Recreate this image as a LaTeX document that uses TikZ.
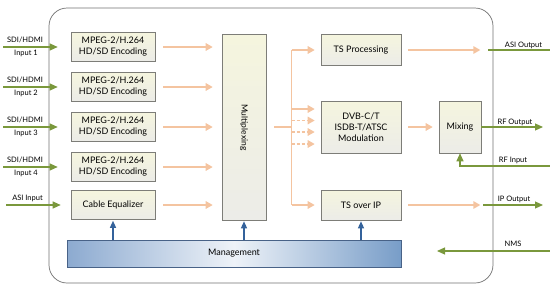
\documentclass[tikz,border=0pt]{standalone}
\usepackage{fontspec}
\setmainfont{Lato}
\usetikzlibrary{arrows.meta,shadows}
\definecolor{frameline}{RGB}{112,112,112}
\definecolor{boxline}{RGB}{125,125,120}
\definecolor{boxtop}{RGB}{245,245,222}
\definecolor{boxbot}{RGB}{236,236,232}
\definecolor{sigorange}{RGB}{244,196,160}
\definecolor{siggreen}{RGB}{122,152,60}
\definecolor{ctlblue}{RGB}{52,98,155}
\definecolor{mgmtleft}{RGB}{140,170,208}
\definecolor{mgmtright}{RGB}{120,157,200}
\definecolor{mgmtline}{RGB}{72,98,135}
\begin{document}
\begin{tikzpicture}[x=1pt,y=-1pt,
  blk/.style={draw=boxline,line width=0.6pt,top color=boxtop,bottom color=boxbot,
    inner sep=0pt,align=center,font=\fontsize{9}{11}\selectfont,
    drop shadow={shadow xshift=0.8pt,shadow yshift=-0.8pt,opacity=0.25}},
  oline/.style={draw=sigorange,line width=1.5pt},
  oarr/.style={oline,-{Triangle[length=7pt,width=7.5pt]}},
  darr/.style={oarr,densely dashed},
  gline/.style={draw=siggreen,line width=1.2pt},
  garr/.style={gline,-{Triangle[length=8pt,width=7pt]}},
  barr/.style={draw=ctlblue,line width=1.2pt,-{Triangle[length=7pt,width=6pt]},shorten >=1pt},
  lbl/.style={font=\fontsize{7.5}{8}\selectfont,inner sep=0pt,anchor=base}]
\useasboundingbox (0,0) rectangle (550,287);
\node[draw=frameline,line width=0.7pt,rounded corners=18pt,minimum width=444pt,minimum height=275pt] (frame) at (271,145.5) {};
\node[blk,minimum width=84pt,minimum height=29pt] (enc1) at (113,47) {MPEG-2/H.264\\HD/SD Encoding};
\node[blk,minimum width=84pt,minimum height=29pt] (enc2) at (113,87) {MPEG-2/H.264\\HD/SD Encoding};
\node[blk,minimum width=84pt,minimum height=29pt] (enc3) at (113,127) {MPEG-2/H.264\\HD/SD Encoding};
\node[blk,minimum width=84pt,minimum height=29pt] (enc4) at (113,167) {MPEG-2/H.264\\HD/SD Encoding};
\node[blk,minimum width=84pt,minimum height=29pt] (eq) at (113,205) {Cable Equalizer};
\node[blk,minimum width=44pt,minimum height=185.5pt] (mux) at (244,127.25) {};
\node[font=\fontsize{8.5}{10}\selectfont,rotate=-90] (muxtxt) at (mux.center) {Multiplexing};
\node[blk,minimum width=80pt,minimum height=30.5pt] (tsp) at (361,50) {TS Processing};
\node[blk,minimum width=80pt,minimum height=52pt] (dvb) at (361,127) {DVB-C/T\\ISDB-T/ATSC\\Modulation};
\node[blk,minimum width=80pt,minimum height=30pt] (tsip) at (361,205) {TS over IP};
\node[blk,minimum width=42pt,minimum height=52pt] (mix) at (460,127) {Mixing};
\node[draw=mgmtline,line width=0.6pt,left color=mgmtleft,right color=mgmtright,middle color=white!85!mgmtleft,
  minimum width=334pt,minimum height=27pt,inner sep=0pt,font=\fontsize{9}{10}\selectfont] (mgmt) at (234,253.5) {Management};
% inputs
\coordinate (in1) at (3,47);
\coordinate (in2) at (3,87);
\coordinate (in3) at (3,127);
\coordinate (in4) at (3,167);
\coordinate (asiin) at (6,205);
\draw[garr] (in1) -- ([xshift=-13pt]enc1.west);
\draw[garr] (in2) -- ([xshift=-13pt]enc2.west);
\draw[garr] (in3) -- ([xshift=-13pt]enc3.west);
\draw[garr] (in4) -- ([xshift=-13pt]enc4.west);
\draw[garr] (asiin) -- ([xshift=-10pt]eq.west);
\node[lbl] (l1a) at (25,42.5) {SDI/HDMI};
\node[lbl] (l1b) at (26,55) {Input 1};
\node[lbl] (l2a) at (25,82.5) {SDI/HDMI};
\node[lbl] (l2b) at (26,95) {Input 2};
\node[lbl] (l3a) at (25,122.5) {SDI/HDMI};
\node[lbl] (l3b) at (26,135) {Input 3};
\node[lbl] (l4a) at (25,162.5) {SDI/HDMI};
\node[lbl] (l4b) at (26,175) {Input 4};
\node[lbl] (l5a) at (27.5,200.5) {ASI Input};
% into the multiplexer
\draw[oarr] ([xshift=8pt]enc1.east) -- ([xshift=-9pt]mux.west |- enc1.east);
\draw[oarr] ([xshift=8pt]enc2.east) -- ([xshift=-9pt]mux.west |- enc2.east);
\draw[oarr] ([xshift=8pt]enc3.east) -- ([xshift=-9pt]mux.west |- enc3.east);
\draw[oarr] ([xshift=8pt]enc4.east) -- ([xshift=-9pt]mux.west |- enc4.east);
\draw[oarr] ([xshift=8pt]eq.east) -- ([xshift=-9pt]mux.west |- eq.east);
% out of the multiplexer
\coordinate (split) at (291.5,127);
\coordinate (vtop) at (split |- tsp.west);
\coordinate (vbot) at (split |- tsip.west);
\coordinate (d1) at (291.5,109);
\coordinate (d2) at (291.5,120.5);
\coordinate (d3) at (291.5,132);
\coordinate (d4) at (291.5,144);
\draw[oline] ([xshift=8pt]mux.east |- split) -- (split);
\draw[oline] (vtop) -- (vbot);
\draw[oarr] (vtop) -- ([xshift=-6pt]tsp.west);
\draw[oarr] (d1) -- ([xshift=-6pt]d1 -| dvb.west);
\draw[darr] (d2) -- ([xshift=-6pt]d2 -| dvb.west);
\draw[darr] (d3) -- ([xshift=-6pt]d3 -| dvb.west);
\draw[darr] (d4) -- ([xshift=-6pt]d4 -| dvb.west);
\draw[oarr] (vbot) -- ([xshift=-6pt]tsip.west);
\draw[oarr] ([xshift=7pt]tsp.east) -- ([xshift=-13pt]frame.east |- tsp.east);
\draw[oarr] ([xshift=7pt]dvb.east) -- ([xshift=-6pt]mix.west);
\draw[oarr] ([xshift=7pt]tsip.east) -- ([xshift=-13pt]frame.east |- tsip.east);
% outputs
\coordinate (asiout) at (550,50);
\coordinate (rfout) at (543,127);
\coordinate (rfin) at (550,166);
\coordinate (ipout) at (543,205);
\coordinate (nms) at (550,251);
\draw[gline] ([xshift=-5pt]frame.east |- tsp.east) -- (asiout);
\draw[garr] (mix.east) -- (rfout);
\draw[garr] (rfin) -| (mix.south);
\draw[garr] ([xshift=-10pt]frame.east |- tsip.east) -- (ipout);
\draw[garr] (nms) -- (437,251);
\node[lbl] (r1) at (523.5,47.3) {ASI Output};
\node[lbl] (r2) at (515,124) {RF Output};
\node[lbl] (r3) at (513,162.3) {RF Input};
\node[lbl] (r4) at (514,201) {IP Output};
\node[lbl] (r5) at (513,246.7) {NMS};
% management
\draw[barr] (mgmt.north -| eq.south) -- (eq.south);
\draw[barr] (mgmt.north -| mux.south) -- (mux.south);
\draw[barr] (mgmt.north -| tsip.south) -- (tsip.south);
\end{tikzpicture}
\end{document}
